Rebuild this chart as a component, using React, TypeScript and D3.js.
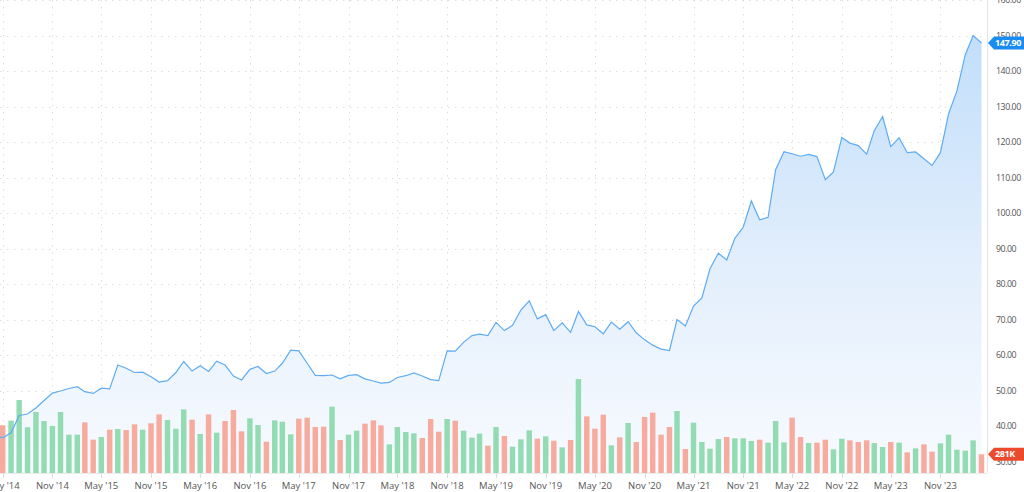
import React from 'react';
import * as d3 from 'd3';

// Monthly closes, starting April 2014 (the April value sits just off the left edge)
const startMonth = new Date(2014, 3, 1);
const closes: number[] = [
  37.4,
  36.7, 38.1, 43.0, 43.4, 45.1, 47.2, 49.3, 49.9, 50.6, 51.1, 49.7, 49.2,
  50.7, 50.5, 57.2, 56.3, 55.1, 55.2, 53.9, 52.4, 52.8, 55.1, 58.2, 55.5,
  57.0, 55.4, 58.3, 57.2, 54.1, 53.0, 56.0, 56.8, 54.8, 55.5, 57.7, 61.4,
  61.2, 57.7, 54.3, 54.2, 54.4, 53.3, 54.3, 54.5, 53.3, 52.7, 52.1, 52.3,
  53.7, 54.2, 55.0, 54.1, 53.1, 52.8, 61.2, 61.1, 63.6, 65.5, 65.9, 65.5,
  69.2, 66.9, 68.4, 72.7, 75.3, 70.2, 71.4, 66.9, 69.1, 66.4, 72.3, 68.5,
  68.0, 66.0, 69.3, 67.3, 69.4, 66.3, 64.3, 62.8, 61.7, 61.3, 70.0, 68.2,
  73.8, 76.1, 84.3, 88.7, 86.8, 92.9, 96.0, 103.4, 98.1, 98.8, 112.2, 117.3,
  116.7, 116.0, 116.5, 115.9, 109.4, 111.6, 121.3, 119.7, 119.0, 116.6, 123.2, 127.2,
  118.7, 121.2, 117.0, 117.2, 115.3, 113.4, 117.0, 127.9, 134.4, 144.6, 150.0, 147.9,
];

// Monthly volume in thousands, May 2014 onward
const volumesK: number[] = [
  716, 785, 1095, 686, 915, 780, 705, 915, 575, 575, 760, 500,
  540, 650, 660, 645, 730, 650, 745, 880, 795, 665, 955, 800,
  585, 880, 605, 780, 945, 625, 820, 720, 470, 790, 770, 580,
  815, 830, 690, 695, 995, 495, 575, 635, 740, 790, 715, 430,
  690, 615, 595, 525, 810, 620, 810, 785, 635, 530, 590, 410,
  690, 555, 395, 505, 640, 515, 550, 485, 385, 495, 1410, 850,
  665, 875, 415, 535, 750, 465, 840, 905, 575, 690, 930, 360,
  755, 465, 365, 510, 540, 520, 520, 480, 500, 455, 780, 460,
  830, 540, 450, 455, 500, 355, 515, 490, 465, 490, 450, 390,
  465, 455, 310, 370, 430, 320, 445, 575, 350, 335, 490, 281,
];

const priceTicks: number[] = [30, 40, 50, 60, 70, 80, 90, 100, 110, 120, 130, 140, 150, 160];

const W = 1024;
const H = 492;
const PLOT_RIGHT = 987;
const PLOT_TOP = 0;
const PLOT_BOTTOM = 473;
const FONT = "'Open Sans', 'Noto Sans', sans-serif";

export default function App() {
  const months = d3.timeMonth.range(startMonth, d3.timeMonth.offset(startMonth, closes.length));
  const data = months.map((date, i) => ({ date, close: closes[i] }));

  const x = d3
    .scaleTime()
    .domain([new Date(2014, 4, 1), new Date(2024, 3, 1)])
    .range([2.7, 981.5]);
  const y = d3.scaleLinear().domain([26.8, 160]).range([PLOT_BOTTOM, PLOT_TOP]);
  const v = d3.scaleLinear().domain([0, 1500]).range([PLOT_BOTTOM, PLOT_BOTTOM - 100]);

  const step = x(new Date(2014, 5, 1)) - x(new Date(2014, 4, 1));
  const barW = step * 0.65;

  const xTicks = d3.timeMonth.range(new Date(2014, 4, 1), new Date(2024, 0, 1), 6);
  const fmt = d3.timeFormat("%b '%y");

  const area = d3
    .area<{ date: Date; close: number }>()
    .x((d) => x(d.date))
    .y0(PLOT_BOTTOM)
    .y1((d) => y(d.close));
  const line = d3
    .line<{ date: Date; close: number }>()
    .x((d) => x(d.date))
    .y((d) => y(d.close));

  const bars = volumesK.map((vol, i) => {
    const cur = closes[i + 1];
    const prev = closes[i];
    return { date: months[i + 1], vol, up: cur >= prev };
  });

  const last = data[data.length - 1];
  const lastY = y(last.close);
  const lastVol = volumesK[volumesK.length - 1];
  const lastVY = v(lastVol);

  const tag = (cy: number) =>
    `M${PLOT_RIGHT + 1},${cy} L${PLOT_RIGHT + 7},${cy - 6.5} L${W},${cy - 6.5} L${W},${cy + 6.5} L${PLOT_RIGHT + 7},${cy + 6.5} Z`;

  return (
    <svg
      width={W}
      height={H}
      style={{ position: 'absolute', left: 0, top: 0, background: '#fff' }}
      fontFamily={FONT}
    >
      <defs>
        <linearGradient id="areaGrad" gradientUnits="userSpaceOnUse" x1="0" y1={PLOT_TOP} x2="0" y2={PLOT_BOTTOM}>
          <stop offset="0%" stopColor="#bcdcfa" />
          <stop offset="55%" stopColor="#e2eefc" />
          <stop offset="100%" stopColor="#f8fbff" />
        </linearGradient>
        <clipPath id="plotClip">
          <rect x={0} y={PLOT_TOP} width={PLOT_RIGHT} height={PLOT_BOTTOM - PLOT_TOP} />
        </clipPath>
      </defs>

      {/* grid */}
      <g stroke="#dedede" strokeWidth={1} strokeDasharray="1.5,5.5">
        {priceTicks.map((t) => (
          <line key={'h' + t} x1={0} x2={PLOT_RIGHT} y1={Math.round(y(t)) + 0.5} y2={Math.round(y(t)) + 0.5} />
        ))}
        {xTicks.map((d) => (
          <line key={'v' + d.getTime()} x1={Math.round(x(d)) + 0.5} x2={Math.round(x(d)) + 0.5} y1={PLOT_TOP} y2={PLOT_BOTTOM} />
        ))}
      </g>

      <g clipPath="url(#plotClip)">
        <path d={area(data) || ''} fill="url(#areaGrad)" />
        {bars.map((b) => (
          <rect
            key={b.date.getTime()}
            x={x(b.date) - barW / 2}
            y={v(b.vol)}
            width={barW}
            height={PLOT_BOTTOM - v(b.vol)}
            fill={b.up ? '#93dbb2' : '#f6ab9e'}
          />
        ))}
        <path d={line(data) || ''} fill="none" stroke="#5eacf3" strokeWidth={1.2} />
      </g>

      {/* axes */}
      <line x1={PLOT_RIGHT + 0.5} x2={PLOT_RIGHT + 0.5} y1={0} y2={PLOT_BOTTOM} stroke="#e3e3e3" />
      <line x1={0} x2={PLOT_RIGHT} y1={PLOT_BOTTOM + 0.5} y2={PLOT_BOTTOM + 0.5} stroke="#ececec" />
      {xTicks.map((d) => (
        <g key={'xt' + d.getTime()}>
          <line x1={Math.round(x(d)) + 0.5} x2={Math.round(x(d)) + 0.5} y1={PLOT_BOTTOM} y2={PLOT_BOTTOM + 5} stroke="#dcdcdc" />
          <text x={x(d)} y={489} textAnchor="middle" fontSize={9.5} fill="#555">
            {fmt(d)}
          </text>
        </g>
      ))}
      {priceTicks.map((t) => (
        <text key={'yt' + t} x={996} y={y(t) + 3.2} fontSize={8.8} fill="#555" letterSpacing={-0.45}>
          {d3.format('.2f')(t)}
        </text>
      ))}

      {/* last value tags */}
      <path d={tag(lastY)} fill="#1a8cf1" />
      <text x={PLOT_RIGHT + 8} y={lastY + 3.2} fontSize={9} fontWeight="bold" fill="#fff" letterSpacing={-0.4}>
        {d3.format('.2f')(last.close)}
      </text>
      <path d={tag(lastVY)} fill="#ec4a2c" />
      <text x={PLOT_RIGHT + 8} y={lastVY + 3.2} fontSize={9} fontWeight="bold" fill="#fff" letterSpacing={-0.4}>
        {lastVol + 'K'}
      </text>
    </svg>
  );
}
